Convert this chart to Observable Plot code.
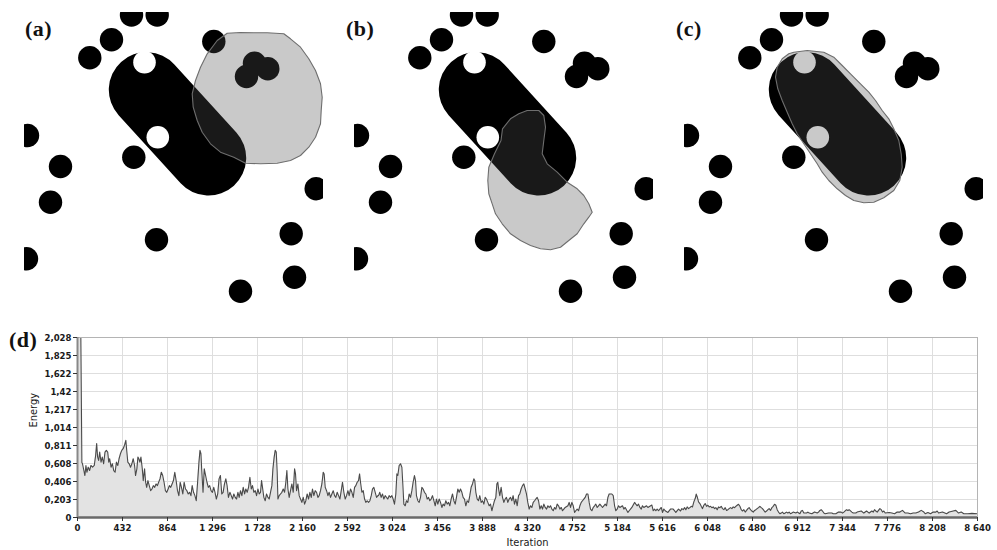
<!DOCTYPE html>
<html>
<head>
<meta charset="utf-8">
<script src="https://cdn.jsdelivr.net/npm/d3@7"></script>
<script src="https://cdn.jsdelivr.net/npm/@observablehq/plot@0.6"></script>
<style>
  body { margin: 0; background: #fff; }
  #fig { position: relative; width: 997px; height: 550px; overflow: hidden; background: #fff; }
  .panel { position: absolute; top: 12px; }
  .tag { position: absolute; font-family: "Liberation Serif", "DejaVu Serif", serif; font-weight: bold;
         font-size: 22px; line-height: 1; color: #111; letter-spacing: 0.5px; }
  #energy { position: absolute; left: 0; top: 310px; }
</style>
</head>
<body>
<div id="fig">
  <div class="panel" id="pa" style="left:24px"></div>
  <div class="panel" id="pb" style="left:354px"></div>
  <div class="panel" id="pc" style="left:684px"></div>
  <div id="energy"></div>
  <div class="tag" style="left:25px;top:18px">(a)</div>
  <div class="tag" style="left:346px;top:18px">(b)</div>
  <div class="tag" style="left:676px;top:18px">(c)</div>
  <div class="tag" style="left:9px;top:329px">(d)</div>
</div>
<script>
// ---- Scene: fixed obstacles (scene units, origin top-left of each panel) ----
const obstacles = [
  {x: 107, y: 2.5}, {x: 132.7, y: 2.5}, {x: 87, y: 27.3}, {x: 65.3, y: 45.3}, {x: 189.3, y: 29},
  {x: 230, y: 50.7}, {x: 243.3, y: 56.3}, {x: 222, y: 64}, {x: 109.3, y: 144.7}, {x: 3, y: 123},
  {x: 36, y: 154}, {x: 26, y: 189.7}, {x: 2, y: 246.3}, {x: 132, y: 227.3}, {x: 291.7, y: 176.3},
  {x: 266.7, y: 221.3}, {x: 270, y: 264.7}, {x: 216, y: 278.7}
];
const obstacleRadius = 11.7;

// Target object: a capsule given by its axis end points and radius
const capsuleAxis = [{x: 122, y: 77.3}, {x: 184, y: 145.3}];
const capsuleRadius = 37.7;

// Holes cut into the target
const holes = [{x: 120, y: 49.7}, {x: 133.3, y: 124.7}];
const holeRadius = 11.3;

// Evolving contour at three stages
const contourA = [
  [202.7,20.7],[216,20],[229.3,20.3],[242.7,20.3],[259.3,21.3],[266,26.3],[276,34.7],[284.3,46.3],
  [291,58],[296,71.3],[297.7,84.7],[296.7,98],[296,111.3],[291,124.7],[284.3,134.7],[276,143],
  [266,148],[252.7,150.7],[236,151.3],[221,150.7],[209.3,144.7],[196,139.7],[186,131.3],[177.7,119.7],
  [172.7,108],[168.7,94.7],[167.7,81.3],[171,68],[176,54.7],[182.7,41.3],[192.7,28]
];
const contourB = [
  [172.7,98],[184.3,98],[189.3,103],[191,114.7],[189.3,128],[187.7,141.3],[192.7,151.3],[202.7,159.7],
  [212.7,169.7],[222.7,176.3],[229.3,183],[234.3,191.3],[237.7,199.7],[234.3,204.7],[229.3,211.3],
  [222.7,221.3],[214.3,228],[206,234.7],[196,237.3],[186,236.3],[176,233],[166,228],[156,221.3],
  [147.7,211.3],[141,201.3],[137.7,191.3],[134.3,181.3],[133.3,168],[134.3,154.7],[140,141.3],
  [146.5,128],[148,116.3],[156,106.3],[164.3,101.3]
];
const contourC = [
  [109.3,39.7],[122.7,38],[139.3,39.7],[149.3,44.7],[157.7,53],[166,61.3],[176,71.3],[184.3,79.7],
  [191,88],[197.7,98],[204.3,106.3],[209.3,116.3],[214.3,128],[216.7,141.3],[217.7,154.7],[215.3,168],
  [209.3,178],[199.3,185.3],[189.3,189.7],[179.3,190.3],[169.3,188],[161,183],[152.7,176.3],[144.3,168],
  [137.7,159.7],[132.7,151.3],[126,141.3],[119.3,131.3],[112.7,121.3],[107.7,111.3],[102.7,99.7],
  [97.7,88],[93.3,76.3],[91,64.7],[92.7,54.7],[97.7,46.3],[104.3,41.3]
];

// ---- Energy trace: [iteration, energy] ----
const energyTrace = [
  [0,2.028],[32,2.028],[42,0.62],[48,0.605],[58,0.548],[71,0.473],[81,0.586],[90,0.51],[103,0.567],[116,0.529],
  [129,0.586],[145,0.567],[161,0.586],[174,0.699],[184,0.832],[193,0.68],[203,0.643],[213,0.737],[226,0.624],
  [238,0.68],[251,0.605],[264,0.737],[277,0.756],[290,0.737],[300,0.624],[309,0.662],[322,0.567],[335,0.605],
  [348,0.529],[361,0.51],[374,0.624],[387,0.586],[399,0.662],[412,0.718],[425,0.756],[438,0.775],[451,0.813],
  [464,0.869],[474,0.737],[483,0.624],[496,0.605],[509,0.567],[522,0.605],[535,0.662],[548,0.586],[557,0.473],
  [570,0.548],[580,0.68],[589,0.662],[599,0.624],[609,0.68],[622,0.548],[631,0.416],[644,0.548],[654,0.397],
  [664,0.34],[676,0.416],[689,0.359],[702,0.302],[715,0.321],[728,0.359],[741,0.34],[754,0.378],[767,0.359],
  [779,0.397],[792,0.435],[805,0.51],[818,0.473],[831,0.397],[844,0.302],[857,0.284],[870,0.321],[882,0.359],
  [895,0.34],[908,0.378],[921,0.416],[934,0.51],[947,0.416],[960,0.302],[973,0.246],[986,0.397],[998,0.34],
  [1011,0.265],[1024,0.397],[1037,0.321],[1050,0.302],[1063,0.265],[1076,0.284],[1089,0.246],[1101,0.359],
  [1114,0.284],[1127,0.246],[1140,0.189],[1153,0.397],[1166,0.624],[1176,0.756],[1185,0.718],[1192,0.548],
  [1205,0.284],[1217,0.548],[1230,0.473],[1243,0.397],[1256,0.34],[1269,0.359],[1282,0.302],[1295,0.284],
  [1308,0.34],[1320,0.284],[1333,0.208],[1346,0.265],[1359,0.435],[1372,0.473],[1385,0.265],[1398,0.284],
  [1411,0.378],[1424,0.435],[1436,0.359],[1449,0.227],
  [1463,0.284],[1476,0.246],[1488,0.208],[1501,0.265],[1514,0.227],[1527,0.208],[1540,0.284],[1552,0.227],
  [1565,0.302],[1578,0.246],[1591,0.34],[1604,0.265],[1616,0.321],[1629,0.284],[1642,0.34],[1655,0.454],
  [1668,0.321],[1680,0.359],[1693,0.284],[1706,0.302],[1719,0.246],[1732,0.321],[1744,0.265],[1757,0.284],
  [1767,0.416],[1776,0.34],[1789,0.227],[1802,0.189],[1815,0.265],[1828,0.227],[1840,0.208],[1853,0.284],
  [1866,0.359],[1876,0.548],[1888,0.68],[1898,0.756],[1908,0.737],[1917,0.51],[1924,0.208],[1936,0.246],
  [1949,0.265],[1962,0.284],[1975,0.321],[1988,0.284],[2000,0.397],[2010,0.529],[2020,0.321],[2032,0.227],
  [2045,0.302],[2058,0.378],[2071,0.284],[2084,0.548],[2093,0.491],[2103,0.302],[2116,0.378],[2128,0.246],
  [2141,0.208],[2154,0.17],[2167,0.227],[2180,0.151],[2192,0.189],[2205,0.265],[2218,0.208],[2231,0.284],
  [2244,0.227],[2256,0.321],[2269,0.246],[2282,0.302],[2295,0.284],[2308,0.227],[2320,0.246],[2333,0.302],
  [2346,0.378],[2359,0.51],[2368,0.491],[2378,0.34],[2391,0.302],[2404,0.246],[2416,0.284],[2429,0.227],
  [2442,0.265],[2455,0.302],[2468,0.246],[2480,0.227],[2493,0.284],[2506,0.246],[2519,0.208],[2532,0.302],
  [2544,0.397],[2557,0.284],[2570,0.208],[2583,0.246],[2596,0.302],[2608,0.246],[2621,0.321],[2634,0.284],
  [2647,0.227],[2660,0.34],[2672,0.359],[2685,0.397],[2698,0.416],[2708,0.491],[2717,0.397],[2730,0.284],
  [2743,0.302],[2756,0.208],[2768,0.17],[2781,0.189],[2794,0.17],[2807,0.189],[2820,0.246],[2832,0.321],
  [2845,0.34],[2858,0.284],[2871,0.227],[2884,0.246],
  [2890,0.246],[2902,0.284],[2915,0.227],[2928,0.265],[2941,0.208],[2954,0.246],[2966,0.227],[2979,0.208],
  [2992,0.246],[3005,0.227],[3018,0.246],[3030,0.208],[3043,0.151],[3056,0.265],[3066,0.491],[3075,0.473],
  [3088,0.586],[3101,0.605],[3114,0.567],[3123,0.378],[3133,0.151],[3146,0.132],[3158,0.189],[3171,0.17],
  [3184,0.265],[3197,0.227],[3210,0.302],[3222,0.397],[3235,0.473],[3245,0.416],[3254,0.246],[3267,0.189],
  [3280,0.17],[3293,0.227],[3306,0.34],[3318,0.321],[3331,0.284],[3344,0.265],[3357,0.208],[3370,0.227],
  [3382,0.189],[3395,0.208],[3408,0.246],[3421,0.189],[3434,0.132],[3446,0.208],[3459,0.151],[3472,0.208],
  [3485,0.17],[3498,0.113],[3510,0.151],[3523,0.132],[3536,0.189],[3549,0.151],[3562,0.17],[3574,0.132],
  [3587,0.208],[3600,0.265],[3613,0.189],[3626,0.151],[3638,0.227],[3651,0.321],[3664,0.284],[3677,0.321],
  [3690,0.284],[3702,0.227],[3715,0.208],[3728,0.132],[3741,0.189],[3754,0.17],[3766,0.246],[3779,0.34],
  [3792,0.378],[3805,0.435],[3814,0.416],[3824,0.284],[3837,0.208],[3850,0.189],[3862,0.246],[3875,0.17],
  [3888,0.189],[3901,0.151],[3914,0.227],[3926,0.208],[3939,0.17],[3952,0.132],[3965,0.151],[3978,0.076],
  [3990,0.132],[4003,0.189],[4016,0.227],[4026,0.378],[4035,0.397],[4045,0.302],[4054,0.246],[4067,0.34],
  [4080,0.227],[4093,0.17],[4106,0.208],[4118,0.227],[4131,0.17],[4144,0.208],[4157,0.227],[4170,0.189],
  [4182,0.246],[4195,0.151],[4208,0.208],[4221,0.132],[4234,0.246],[4246,0.265],[4259,0.321],[4272,0.359],
  [4285,0.378],[4298,0.321],[4310,0.265],[4323,0.17],[4336,0.095],
  [4349,0.132],[4362,0.113],[4375,0.17],[4388,0.189],[4400,0.208],[4413,0.227],[4426,0.189],[4439,0.095],
  [4452,0.132],[4464,0.095],[4477,0.151],[4490,0.113],[4503,0.095],[4516,0.132],[4528,0.113],[4541,0.132],
  [4554,0.095],[4567,0.076],[4580,0.113],[4592,0.095],[4605,0.151],[4618,0.132],[4631,0.095],[4644,0.113],
  [4656,0.076],[4669,0.095],[4682,0.113],[4708,0.132],[4720,0.17],[4733,0.113],[4746,0.17],[4759,0.132],
  [4772,0.057],[4784,0.076],[4797,0.095],[4810,0.076],[4823,0.132],[4836,0.17],[4848,0.189],[4861,0.208],
  [4874,0.227],[4887,0.265],[4900,0.265],[4912,0.17],[4925,0.095],[4938,0.076],[4951,0.113],[4964,0.132],
  [4976,0.151],[4989,0.113],[5002,0.132],[5015,0.151],[5028,0.132],[5040,0.113],[5053,0.132],[5066,0.151],
  [5079,0.132],[5092,0.227],[5104,0.265],[5130,0.265],[5143,0.246],[5156,0.132],[5168,0.076],[5181,0.095],
  [5194,0.132],[5207,0.113],[5232,0.132],[5245,0.095],[5258,0.113],[5284,0.057],[5296,0.076],[5322,0.113],
  [5348,0.17],[5360,0.151],[5373,0.132],[5386,0.151],[5399,0.113],[5412,0.095],[5424,0.132],[5437,0.113],
  [5463,0.132],[5476,0.113],[5514,0.14],[5527,0.076],[5540,0.095],[5552,0.076],[5565,0.095],[5578,0.076],
  [5591,0.095],[5604,0.113],[5616,0.057],[5629,0.095],[5642,0.076],[5668,0.057],[5693,0.095],[5719,0.095],
  [5744,0.057],[5770,0.095],
  [5776,0.088],[5789,0.073],[5802,0.1],[5815,0.088],[5828,0.111],[5840,0.088],[5853,0.119],[5866,0.1],
  [5879,0.111],[5892,0.126],[5904,0.119],[5917,0.176],[5930,0.214],[5940,0.264],[5949,0.234],[5962,0.176],
  [5975,0.157],[5988,0.126],[6000,0.1],[6013,0.138],[6026,0.157],[6039,0.126],[6052,0.138],[6064,0.119],
  [6077,0.126],[6090,0.111],[6103,0.119],[6116,0.1],[6128,0.111],[6141,0.088],[6154,0.119],[6167,0.111],
  [6180,0.126],[6192,0.1],[6205,0.088],[6218,0.111],[6231,0.08],[6244,0.088],[6256,0.1],[6269,0.111],
  [6282,0.1],[6295,0.119],[6308,0.111],[6320,0.126],[6333,0.138],[6346,0.149],[6359,0.126],[6372,0.088],
  [6384,0.073],[6397,0.088],[6410,0.061],[6423,0.08],[6436,0.1],[6448,0.111],[6461,0.088],[6474,0.073],
  [6487,0.061],[6500,0.08],[6512,0.088],[6525,0.1],[6538,0.111],[6551,0.126],[6564,0.111],[6576,0.1],
  [6589,0.08],[6602,0.061],[6615,0.073],[6628,0.088],[6640,0.1],[6653,0.08],[6666,0.111],[6679,0.126],
  [6692,0.149],[6704,0.138],[6717,0.088],[6730,0.061],[6743,0.042],[6756,0.05],[6768,0.061],[6781,0.042],
  [6794,0.05],[6807,0.061],[6820,0.05],[6832,0.061],[6845,0.042],[6858,0.05],[6871,0.061],[6896,0.05],
  [6909,0.061],[6935,0.042],[6948,0.073],[6960,0.08],[6973,0.05],[6999,0.05],[7012,0.061],[7024,0.05],
  [7050,0.042],[7076,0.061],[7101,0.05],[7114,0.061],[7127,0.08],[7140,0.088],[7152,0.073],[7165,0.05],
  [7178,0.042],[7210,0.05],
  [7216,0.05],[7242,0.05],[7255,0.042],[7280,0.042],[7306,0.061],[7332,0.061],[7344,0.05],[7357,0.061],
  [7383,0.088],[7396,0.08],[7408,0.088],[7434,0.061],[7447,0.05],[7472,0.05],[7485,0.061],[7524,0.073],
  [7549,0.05],[7575,0.073],[7600,0.05],[7626,0.073],[7639,0.061],[7652,0.088],[7664,0.073],[7677,0.061],
  [7703,0.1],[7716,0.088],[7728,0.061],[7741,0.073],[7754,0.05],[7792,0.057],[7818,0.05],[7844,0.042],
  [7869,0.061],[7895,0.061],[7920,0.08],[7946,0.05],[7972,0.05],[7997,0.042],[8023,0.05],[8048,0.05],
  [8074,0.061],[8100,0.08],[8125,0.061],[8138,0.042],[8164,0.057],[8189,0.042],[8215,0.061],[8240,0.061],
  [8253,0.073],[8266,0.05],[8304,0.061],[8343,0.042],[8368,0.061],[8407,0.073],[8432,0.08],[8458,0.05],
  [8484,0.061],[8509,0.042],[8548,0.042],[8586,0.046],[8637,0.042]
];

// Axis ticks and their printed labels
const xTicks = [0, 432, 864, 1296, 1728, 2160, 2592, 3024, 3456, 3888, 4320, 4752, 5184, 5616, 6048, 6480, 6912, 7344, 7776, 8208, 8640];
const xTickLabels = ["0", "432", "864", "1 296", "1 728", "2 160", "2 592", "3 024", "3 456", "3 888", "4 320", "4 752", "5 184", "5 616", "6 048", "6 480", "6 912", "7 344", "7 776", "8 208", "8 640"];
const yTicks = [0, 0.2028, 0.4056, 0.6084, 0.8112, 1.014, 1.2168, 1.4196, 1.6224, 1.8252, 2.028];
const yTickLabels = ["0", "0,203", "0,406", "0,608", "0,811", "1,014", "1,217", "1,42", "1,622", "1,825", "2,028"];

// ---- Scene panels ----
function scene(contour) {
  return Plot.plot({
    width: 299, height: 298, margin: 0,
    x: {domain: [0, 299], axis: null},
    y: {domain: [0, 298], reverse: true, axis: null},
    marks: [
      Plot.line(capsuleAxis, {x: "x", y: "y", stroke: "black", strokeWidth: 2 * capsuleRadius, strokeLinecap: "round", clip: true}),
      Plot.dot(obstacles, {x: "x", y: "y", r: obstacleRadius, fill: "black", clip: true}),
      Plot.dot(holes, {x: "x", y: "y", r: holeRadius, fill: "white"}),
      Plot.line(contour, {x: d => d[0], y: d => d[1], curve: "linear-closed", fill: "#505050", fillOpacity: 0.31,
        stroke: "#6e6e6e", strokeWidth: 1.1, clip: true})
    ]
  });
}
document.getElementById("pa").append(scene(contourA));
document.getElementById("pb").append(scene(contourB));
document.getElementById("pc").append(scene(contourC));

// ---- Energy plot ----
const xLabel = new Map(xTicks.map((t, i) => [t, xTickLabels[i]]));
const yLabel = new Map(yTicks.map((t, i) => [t, yTickLabels[i]]));

const energyPlot = Plot.plot({
  width: 997, height: 240,
  marginLeft: 77, marginRight: 20, marginTop: 27, marginBottom: 33,
  style: {fontFamily: "'DejaVu Sans Condensed', 'DejaVu Sans', sans-serif", fontSize: "9.5px", color: "#1a1a1a", background: "transparent"},
  x: {domain: [0, 8640]},
  y: {domain: [0, 2.028]},
  marks: [
    Plot.frame({fill: "white"}),
    Plot.gridX({ticks: xTicks, stroke: "#dedede", strokeOpacity: 1}),
    Plot.gridY({ticks: yTicks, stroke: "#dedede", strokeOpacity: 1}),
    Plot.areaY(energyTrace, {x: d => d[0], y: d => d[1], fill: "#e3e3e3"}),
    Plot.line(energyTrace, {x: d => d[0], y: d => d[1], stroke: "#4a4a4a", strokeWidth: 1.1}),
    Plot.frame({stroke: "#b4b4b4"}),
    Plot.ruleY([0], {stroke: "#6a6a6a", strokeWidth: 2.5}),
    Plot.ruleX([0], {stroke: "#888", strokeWidth: 2}),
    Plot.axisX({ticks: xTicks, tickFormat: d => xLabel.get(d), tickSize: 4, tickPadding: 3, fontWeight: "bold", label: null, stroke: "#333"}),
    Plot.axisY({ticks: yTicks, tickFormat: d => yLabel.get(d), tickSize: 4, tickPadding: 2, fontWeight: "bold", label: null, stroke: "#333"}),
    Plot.text(["Iteration"], {frameAnchor: "bottom", dy: 28, fontSize: 11}),
    Plot.text(["Energy"], {frameAnchor: "left", dx: -44, rotate: -90, fontSize: 11})
  ]
});
document.getElementById("energy").append(energyPlot);
</script>
</body>
</html>
